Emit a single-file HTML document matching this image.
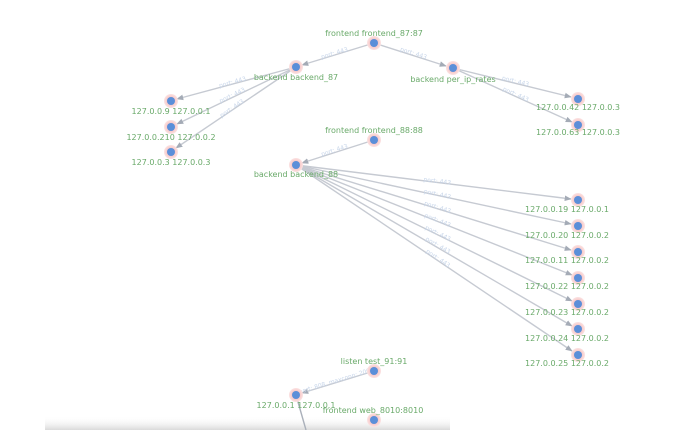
<!DOCTYPE html>
<html><head><meta charset="utf-8"><style>
html,body{margin:0;padding:0;background:#fff;}
svg{display:block;font-family:"DejaVu Sans","Liberation Sans",sans-serif;}
.l{fill:#6aaa6a;font-size:8px;text-anchor:middle;}
.e{stroke:#c6cad2;stroke-width:1.4;fill:none;marker-end:url(#a);}
.p{fill:#c8d6ea;font-size:6px;text-anchor:middle;}
</style></head><body>
<svg width="700" height="430" viewBox="0 0 700 430">
<defs>
<marker id="a" viewBox="0 0 10 10" refX="9" refY="5" markerWidth="5" markerHeight="5" orient="auto"><path d="M0,1 L10,5 L0,9 z" fill="#a4abb6"/></marker>
<linearGradient id="sh" x1="0" y1="0" x2="0" y2="1"><stop offset="0" stop-color="#fff" stop-opacity="0"/><stop offset="1" stop-color="#dadada"/></linearGradient>
<radialGradient id="h"><stop offset="0.5" stop-color="#f6c4c4"/><stop offset="1" stop-color="#fbe3e3"/></radialGradient>
</defs>
<rect x="45" y="416" width="405" height="14" fill="url(#sh)"/>
<g>
<line class="e" x1="374" y1="43" x2="302" y2="65"/>
<line class="e" x1="374" y1="43" x2="446" y2="66"/>
<line class="e" x1="296" y1="67" x2="177" y2="99"/>
<line class="e" x1="296" y1="67" x2="177" y2="124"/>
<line class="e" x1="296" y1="67" x2="176" y2="148"/>
<line class="e" x1="453" y1="68" x2="571" y2="97"/>
<line class="e" x1="453" y1="68" x2="572" y2="122"/>
<line class="e" x1="374" y1="140" x2="302" y2="163"/>
<line class="e" x1="296" y1="165" x2="571" y2="199"/>
<line class="e" x1="296" y1="165" x2="571" y2="224"/>
<line class="e" x1="296" y1="165" x2="571" y2="250"/>
<line class="e" x1="296" y1="165" x2="572" y2="275"/>
<line class="e" x1="296" y1="165" x2="572" y2="301"/>
<line class="e" x1="296" y1="165" x2="572" y2="326"/>
<line class="e" x1="296" y1="165" x2="572" y2="351"/>
<line class="e" x1="374" y1="371" x2="302" y2="393"/>
<line x1="296" y1="395" x2="306" y2="430" stroke="#aab0ba" stroke-width="1.4"/>
</g>
<g>
<text class="p" transform="translate(335,55) rotate(-17)">port: 443</text>
<text class="p" transform="translate(413,55) rotate(17.5)">port: 443</text>
<text class="p" transform="translate(233,84) rotate(-15)">port: 443</text>
<text class="p" transform="translate(233,97) rotate(-25.6)">port: 443</text>
<text class="p" transform="translate(233,110) rotate(-34)">port: 443</text>
<text class="p" transform="translate(515,83) rotate(14)">port: 443</text>
<text class="p" transform="translate(515,96) rotate(24.5)">port: 443</text>
<text class="p" transform="translate(335,152) rotate(-17.8)">port: 443</text>
<text class="p" transform="translate(437,183) rotate(7.1)">port: 443</text>
<text class="p" transform="translate(437,196) rotate(12.2)">port: 443</text>
<text class="p" transform="translate(437,209) rotate(17.1)">port: 443</text>
<text class="p" transform="translate(437,222) rotate(21.8)">port: 443</text>
<text class="p" transform="translate(437,235) rotate(26.2)">port: 443</text>
<text class="p" transform="translate(437,247) rotate(30.2)">port: 443</text>
<text class="p" transform="translate(437,260) rotate(34)">port: 443</text>
<text class="p" transform="translate(335,383) rotate(-17)">port: 808, maxconn: 200</text>
</g>
<g>
<g transform="translate(374,43)"><circle r="7" fill="url(#h)"/><circle r="4" fill="#5b8fd9"/></g>
<g transform="translate(296,67)"><circle r="7" fill="url(#h)"/><circle r="4" fill="#5b8fd9"/></g>
<g transform="translate(453,68)"><circle r="7" fill="url(#h)"/><circle r="4" fill="#5b8fd9"/></g>
<g transform="translate(171,101)"><circle r="7" fill="url(#h)"/><circle r="4" fill="#5b8fd9"/></g>
<g transform="translate(171,127)"><circle r="7" fill="url(#h)"/><circle r="4" fill="#5b8fd9"/></g>
<g transform="translate(171,152)"><circle r="7" fill="url(#h)"/><circle r="4" fill="#5b8fd9"/></g>
<g transform="translate(578,99)"><circle r="7" fill="url(#h)"/><circle r="4" fill="#5b8fd9"/></g>
<g transform="translate(578,125)"><circle r="7" fill="url(#h)"/><circle r="4" fill="#5b8fd9"/></g>
<g transform="translate(374,140)"><circle r="7" fill="url(#h)"/><circle r="4" fill="#5b8fd9"/></g>
<g transform="translate(296,165)"><circle r="7" fill="url(#h)"/><circle r="4" fill="#5b8fd9"/></g>
<g transform="translate(578,200)"><circle r="7" fill="url(#h)"/><circle r="4" fill="#5b8fd9"/></g>
<g transform="translate(578,226)"><circle r="7" fill="url(#h)"/><circle r="4" fill="#5b8fd9"/></g>
<g transform="translate(578,252)"><circle r="7" fill="url(#h)"/><circle r="4" fill="#5b8fd9"/></g>
<g transform="translate(578,278)"><circle r="7" fill="url(#h)"/><circle r="4" fill="#5b8fd9"/></g>
<g transform="translate(578,304)"><circle r="7" fill="url(#h)"/><circle r="4" fill="#5b8fd9"/></g>
<g transform="translate(578,329)"><circle r="7" fill="url(#h)"/><circle r="4" fill="#5b8fd9"/></g>
<g transform="translate(578,355)"><circle r="7" fill="url(#h)"/><circle r="4" fill="#5b8fd9"/></g>
<g transform="translate(374,371)"><circle r="7" fill="url(#h)"/><circle r="4" fill="#5b8fd9"/></g>
<g transform="translate(296,395)"><circle r="7" fill="url(#h)"/><circle r="4" fill="#5b8fd9"/></g>
<g transform="translate(374,420)"><circle r="7" fill="url(#h)"/><circle r="4" fill="#5b8fd9"/></g>
</g>
<g>
<text class="l" x="374" y="36">frontend frontend_87:87</text>
<text class="l" x="296" y="80">backend backend_87</text>
<text class="l" x="453" y="82">backend per_ip_rates</text>
<text class="l" x="171" y="114">127.0.0.9 127.0.0.1</text>
<text class="l" x="171" y="140">127.0.0.210 127.0.0.2</text>
<text class="l" x="171" y="165">127.0.0.3 127.0.0.3</text>
<text class="l" x="578" y="110">127.0.0.42 127.0.0.3</text>
<text class="l" x="578" y="135">127.0.0.63 127.0.0.3</text>
<text class="l" x="374" y="133">frontend frontend_88:88</text>
<text class="l" x="296" y="177">backend backend_88</text>
<text class="l" x="567" y="212">127.0.0.19 127.0.0.1</text>
<text class="l" x="567" y="238">127.0.0.20 127.0.0.2</text>
<text class="l" x="567" y="263">127.0.0.11 127.0.0.2</text>
<text class="l" x="567" y="289">127.0.0.22 127.0.0.2</text>
<text class="l" x="567" y="315">127.0.0.23 127.0.0.2</text>
<text class="l" x="567" y="341">127.0.0.24 127.0.0.2</text>
<text class="l" x="567" y="366">127.0.0.25 127.0.0.2</text>
<text class="l" x="374" y="364">listen test_91:91</text>
<text class="l" x="296" y="408">127.0.0.1 127.0.0.1</text>
<text class="l" x="373" y="413">frontend web_8010:8010</text>
</g>
</svg>
</body></html>
